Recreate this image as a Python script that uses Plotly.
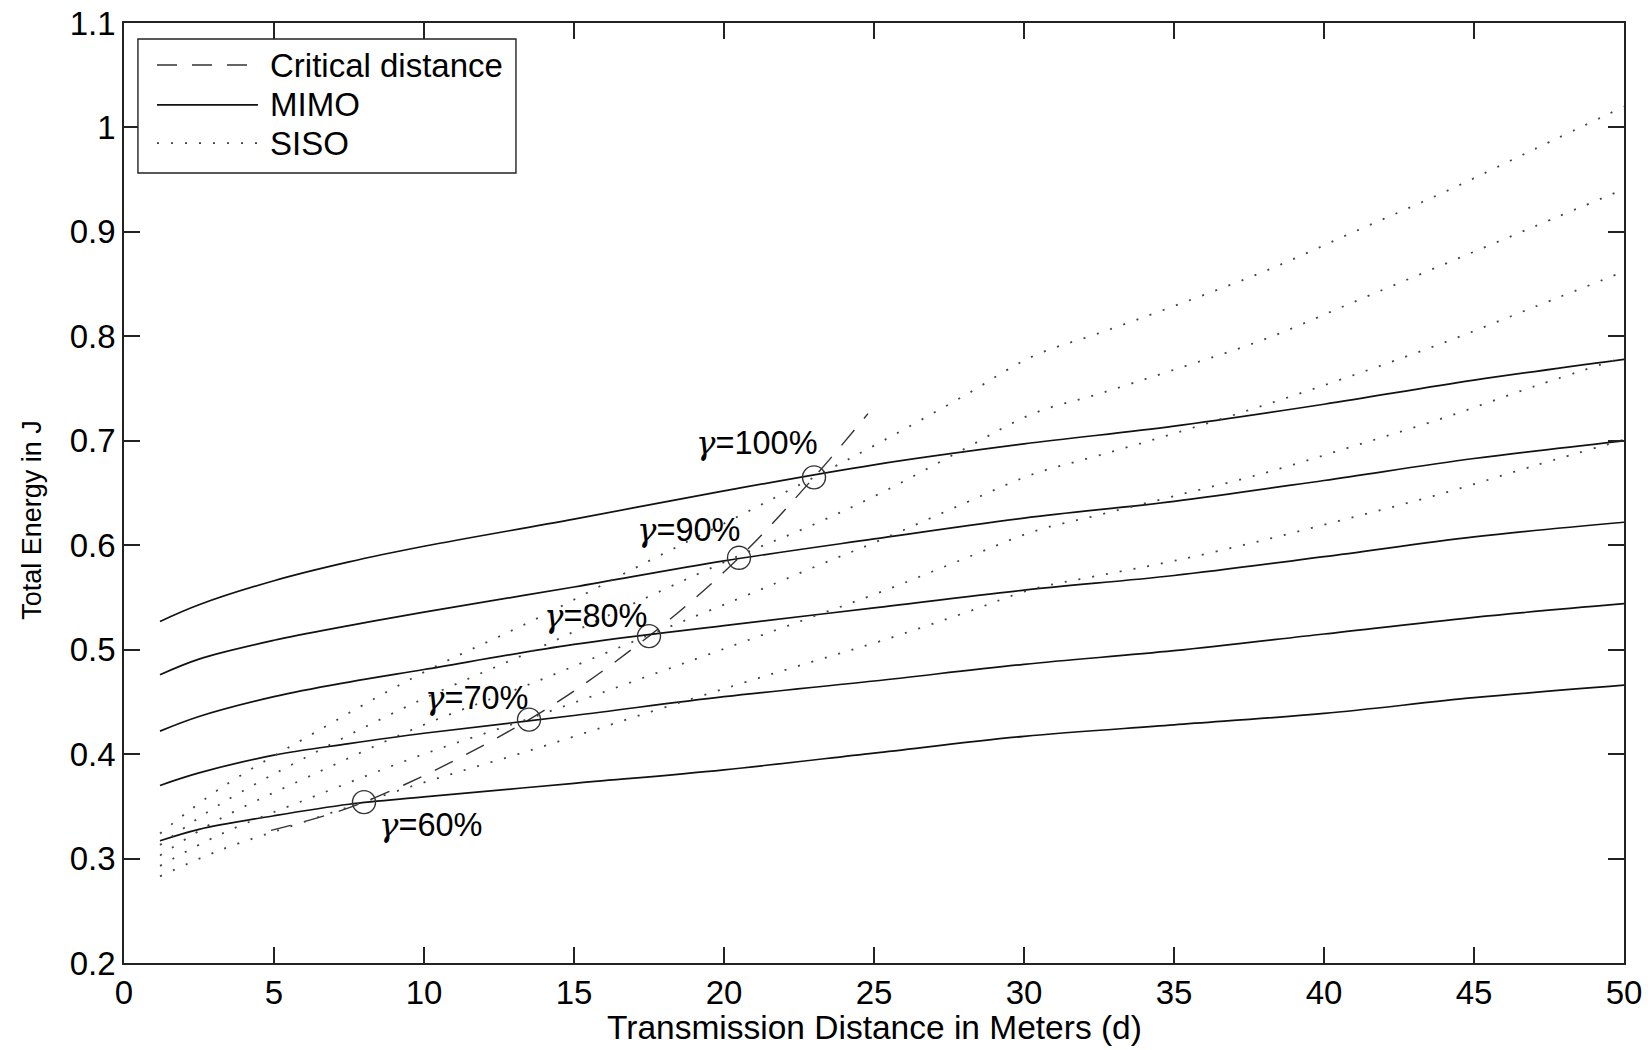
import plotly.graph_objects as go

# ---------------- data ----------------
mimo_x = [1.2, 2.5, 5, 7.5, 10, 15, 20, 25, 30, 35, 40, 45, 50]
mimo_100 = [0.527, 0.543, 0.566, 0.584, 0.599, 0.625, 0.652, 0.677, 0.697, 0.714, 0.735, 0.758, 0.778]
mimo_90 = [0.476, 0.491, 0.509, 0.523, 0.536, 0.560, 0.585, 0.606, 0.626, 0.642, 0.662, 0.683, 0.700]
mimo_80 = [0.422, 0.436, 0.455, 0.469, 0.481, 0.505, 0.523, 0.540, 0.557, 0.571, 0.589, 0.608, 0.622]
mimo_70 = [0.370, 0.382, 0.399, 0.410, 0.420, 0.437, 0.455, 0.470, 0.486, 0.499, 0.515, 0.531, 0.544]
mimo_60 = [0.317, 0.328, 0.341, 0.352, 0.359, 0.372, 0.385, 0.401, 0.417, 0.428, 0.439, 0.454, 0.466]

siso_x = [1.2, 3.2, 6.2, 9.9, 13.7, 17.5, 20.5, 23, 25.3, 28, 30.3, 32.5, 35, 38, 41, 44, 47, 50]
siso_100 = [0.324, 0.367, 0.418, 0.477, 0.529, 0.585, 0.628, 0.665, 0.700, 0.743, 0.781, 0.803, 0.829, 0.862, 0.900, 0.938, 0.979, 1.020]
siso_90 = [0.313, 0.352, 0.399, 0.452, 0.500, 0.551, 0.590, 0.620, 0.651, 0.692, 0.726, 0.745, 0.768, 0.797, 0.833, 0.869, 0.905, 0.941]
siso_80 = [0.303, 0.338, 0.379, 0.427, 0.469, 0.514, 0.549, 0.579, 0.606, 0.640, 0.668, 0.686, 0.707, 0.734, 0.763, 0.794, 0.828, 0.862]
siso_70 = [0.293, 0.323, 0.358, 0.399, 0.436, 0.475, 0.506, 0.532, 0.556, 0.587, 0.613, 0.629, 0.647, 0.669, 0.695, 0.722, 0.752, 0.780]
siso_60 = [0.283, 0.308, 0.337, 0.372, 0.405, 0.440, 0.467, 0.489, 0.509, 0.535, 0.558, 0.571, 0.585, 0.605, 0.627, 0.650, 0.676, 0.701]

crit_x = [4.9, 8, 13.5, 17.5, 20.5, 23, 24.8]
crit_y = [0.327, 0.354, 0.433, 0.513, 0.588, 0.665, 0.726]

point_x = [8, 13.5, 17.5, 20.5, 23]
point_y = [0.354, 0.433, 0.513, 0.588, 0.665]

label_text = ["γ=60%", "γ=70%", "γ=80%", "γ=90%", "γ=100%"]
label_x = [10.2, 11.75, 15.7, 18.8, 21.1]
label_y = [0.332, 0.454, 0.532, 0.615, 0.698]

legend_names = ["Critical distance", "MIMO", "SISO"]

x_ticks = [0, 5, 10, 15, 20, 25, 30, 35, 40, 45, 50]
y_ticks = [0.2, 0.3, 0.4, 0.5, 0.6, 0.7, 0.8, 0.9, 1.0, 1.1]
y_tick_text = ["0.2", "0.3", "0.4", "0.5", "0.6", "0.7", "0.8", "0.9", "1", "1.1"]

# ---------------- styles ----------------
FONT = "Arial, Liberation Sans, Helvetica, sans-serif"
CRIT_LINE = dict(color="#333333", width=1.4, dash="20px,15px")
MIMO_LINE = dict(color="#111111", width=1.7)
SISO_LINE = dict(color="#444444", width=1.8, dash="2px,12px")

fig = go.Figure()

fig.add_trace(go.Scatter(x=crit_x, y=crit_y, mode="lines", name=legend_names[0],
                         line=CRIT_LINE, line_shape="spline", showlegend=False))

for ys in [mimo_100, mimo_90, mimo_80, mimo_70, mimo_60]:
    fig.add_trace(go.Scatter(x=mimo_x, y=ys, mode="lines", name=legend_names[1],
                             line=MIMO_LINE, line_shape="spline", showlegend=False))

for ys in [siso_100, siso_90, siso_80, siso_70, siso_60]:
    fig.add_trace(go.Scatter(x=siso_x, y=ys, mode="lines", name=legend_names[2],
                             line=SISO_LINE, line_shape="spline", showlegend=False))

fig.add_trace(go.Scatter(x=point_x, y=point_y, mode="markers", showlegend=False,
                         marker=dict(symbol="circle-open", size=23, color="#333333",
                                     line=dict(color="#333333", width=1.4))))

gamma = '<span style="font-family:DejaVu Serif, Liberation Serif, serif"><i>γ</i></span>'
for t, xx, yy in zip(label_text, label_x, label_y):
    fig.add_annotation(x=xx, y=yy, xref="x", yref="y",
                       text=t.replace("γ", gamma), showarrow=False,
                       font=dict(family=FONT, size=32.5, color="black"),
                       xanchor="center", yanchor="middle")

# ---------------- legend box (drawn in paper coordinates) ----------------
fig.add_shape(type="rect", xref="paper", yref="paper", x0=0.0093, x1=0.2613, y0=0.8404, y1=0.9830,
              line=dict(color="#222222", width=1.4), fillcolor="white", layer="above")
legend_rows = [0.9553, 0.9128, 0.8723]
for name, yy, style in zip(legend_names, legend_rows, [CRIT_LINE, MIMO_LINE, SISO_LINE]):
    fig.add_shape(type="line", xref="paper", yref="paper", x0=0.022, x1=0.0893, y0=yy, y1=yy,
                  line=style, layer="above")
    fig.add_annotation(text=name, xref="paper", yref="paper", x=0.096, y=yy,
                       xanchor="left", yanchor="middle", showarrow=False,
                       font=dict(family=FONT, size=33, color="black"))

# ---------------- axis titles ----------------
fig.add_annotation(text="Transmission Distance in Meters (d)", xref="paper", yref="paper",
                   x=0.5, y=-0.069, xanchor="center", yanchor="middle", showarrow=False,
                   font=dict(family=FONT, size=33.5, color="black"))
fig.add_annotation(text="Total Energy in J", xref="paper", yref="paper",
                   x=-0.061, y=0.471, xanchor="center", yanchor="middle", showarrow=False,
                   textangle=-90, font=dict(family=FONT, size=27, color="black"))

axis_common = dict(showline=True, linecolor="#222222", linewidth=1.5, mirror="ticks",
                   ticks="inside", ticklen=16, tickwidth=1.5, tickcolor="#222222",
                   showgrid=False, zeroline=False, automargin=False,
                   tickfont=dict(family=FONT, size=33, color="black"))

fig.update_xaxes(range=[0, 50], tickvals=x_ticks, ticktext=[str(v) for v in x_ticks], **axis_common)
fig.update_yaxes(range=[0.2, 1.1], tickvals=y_ticks, ticktext=y_tick_text, **axis_common)

fig.update_layout(
    width=1648, height=1050,
    margin=dict(l=124, r=24, t=23, b=87, autoexpand=False),
    paper_bgcolor="white", plot_bgcolor="white",
    showlegend=False,
)

fig.write_html("out.html")
